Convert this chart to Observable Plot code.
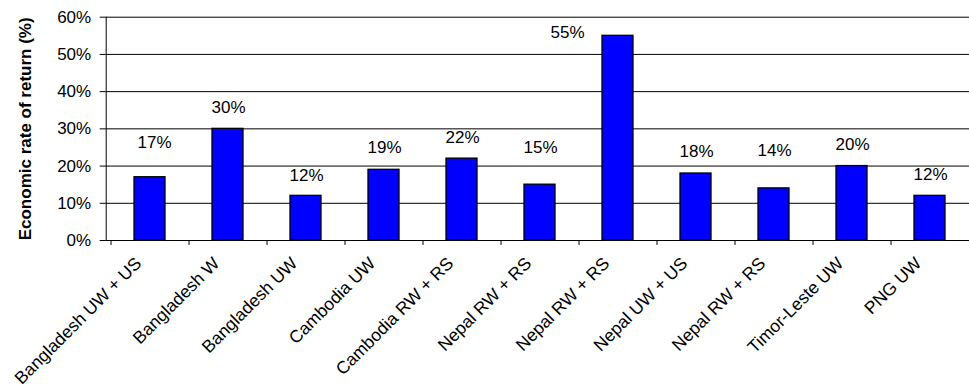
<!DOCTYPE html>
<html>
<head>
<meta charset="utf-8">
<script src="https://cdn.jsdelivr.net/npm/d3@7"></script>
<script src="https://cdn.jsdelivr.net/npm/@observablehq/plot@0.6"></script>
<style>
  html, body { margin: 0; padding: 0; background: #fff; overflow: hidden; }
  #chart { width: 969px; height: 390px; }
</style>
</head>
<body>
<div id="chart"></div>
<script>
// Economic rate of return by project
const categories = [
  "Bangladesh UW + US", "Bangladesh W", "Bangladesh UW", "Cambodia UW",
  "Cambodia RW + RS", "Nepal RW + RS", "Nepal RW + RS", "Nepal UW + US",
  "Nepal RW + RS", "Timor-Leste UW", "PNG UW"
];
const returns = [17, 30, 12, 19, 22, 15, 55, 18, 14, 20, 12];
const yTicks = [0, 10, 20, 30, 40, 50, 60];

// label placement (pixels) relative to the top of each bar
const labelDy = [-35, -21, -20, -22, -21, -37, -3, -22, -38, -22, -21];
const labelDx = [4, 0, 0, 0, 0, 0, -51, 0, 0, 0, 0];

const idx = categories.map((_, i) => i);
const rows = idx.map(i => ({i, name: categories[i], value: returns[i]}));

const left = 105.7, right = 974.3;
const step = (right - left) / categories.length;
const font = "Liberation Sans, Arial, sans-serif";
const fs = 17;

const chart = Plot.plot({
  width: 969,
  height: 390,
  marginTop: 16.7,
  marginBottom: 150,
  marginLeft: left,
  marginRight: 0,
  style: {fontFamily: font, fontSize: fs + "px", color: "#000", background: "#fff"},
  x: {type: "band", domain: idx, range: [left, right], padding: 0, axis: null},
  y: {domain: [0, 60], axis: null},
  marks: [
    // horizontal gridlines
    Plot.ruleY(yTicks.slice(1), {stroke: "#000", strokeWidth: 1}),
    // bars
    Plot.barY(rows, {
      x: "i", y: "value",
      fill: "#0000ff", stroke: "#000", strokeWidth: 1.3,
      insetLeft: 23, insetRight: 24
    }),
    // axes lines
    Plot.ruleY([0], {stroke: "#000", strokeWidth: 1}),
    Plot.frame({anchor: "left", stroke: "#000", strokeWidth: 1}),
    // category ticks at band boundaries
    Plot.ruleX(idx, {x: d => d, dx: -step / 2, y1: 0, y2: -1.35, stroke: "#000", strokeWidth: 1}),
    // y axis
    Plot.axisY({
      ticks: yTicks, tickFormat: d => d + "%", tickSize: 6, tickPadding: 9,
      fontSize: fs, label: null, stroke: "#000"
    }),
    // rotated category labels
    Plot.text(rows, {
      x: "i", y: () => 0, text: "name",
      rotate: -45, textAnchor: "end", lineAnchor: "middle",
      dx: -12, dy: 20, fontSize: 17.5, fill: "#000"
    }),
    // value labels
    ...rows.map(r => Plot.text([r], {
      x: "i", y: "value", text: d => d.value + "%",
      dy: labelDy[r.i], dx: labelDx[r.i],
      fontSize: fs, fill: "#000"
    })),
    // y axis title
    Plot.text(["Economic rate of return (%)"], {
      frameAnchor: "left", textAnchor: "middle", rotate: -90, dx: -80.7,
      fontSize: fs, fontWeight: "bold", fill: "#000"
    })
  ]
});

document.getElementById("chart").append(chart);
</script>
</body>
</html>
